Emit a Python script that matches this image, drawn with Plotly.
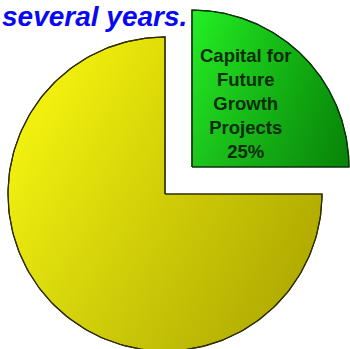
import numpy as np
import plotly.graph_objects as go

# Slice data (clockwise from 12 o'clock)
labels = ["Capital for<br>Future<br>Growth<br>Projects", ""]
values = [25, 75]
pulls = [0.243, 0.0]
show_text = [True, False]

# Styling per slice: horizontal base gradient + vertical shade overlay
base_scales = [
    [[0, "#24f024"], [1, "#0a9c0a"]],
    [[0, "#ffff10"], [1, "#c2bc00"]],
]
shade_scales = [
    [[0, "rgba(0,30,0,0.20)"], [1, "rgba(0,30,0,0)"]],
    [[0, "rgba(40,35,0,0.17)"], [1, "rgba(40,35,0,0)"]],
]
outline_colors = ["#0b330b", "#2e2c00"]

title_text = "several years."

fig = go.Figure()
total = float(sum(values))
start = 90.0
for i, v in enumerate(values):
    sweep = 360.0 * v / total
    a0, a1 = start, start - sweep
    mid = np.deg2rad((a0 + a1) / 2)
    cx, cy = pulls[i] * np.cos(mid), pulls[i] * np.sin(mid)
    th = np.deg2rad(np.linspace(a0, a1, 181))
    xs = np.concatenate([[cx], cx + np.cos(th), [cx]])
    ys = np.concatenate([[cy], cy + np.sin(th), [cy]])
    fig.add_trace(go.Scatter(
        x=xs, y=ys, mode="lines", fill="toself",
        fillgradient=dict(type="horizontal", colorscale=base_scales[i]),
        line=dict(color=outline_colors[i], width=1.2),
        hoverinfo="skip", showlegend=False,
    ))
    fig.add_trace(go.Scatter(
        x=xs, y=ys, mode="lines", fill="toself",
        fillgradient=dict(type="vertical", colorscale=shade_scales[i]),
        line=dict(color=outline_colors[i], width=1.2),
        hoverinfo="skip", showlegend=False,
    ))
    if show_text[i]:
        theta = np.deg2rad(sweep)
        dist = 4 * np.sin(theta / 2) / (3 * theta)
        tx, ty = cx + dist * np.cos(mid), cy + dist * np.sin(mid)
        pct = f"{100 * v / total:.0f}%"
        fig.add_annotation(
            x=tx, y=ty, xref="x", yref="y",
            text=f"<b>{labels[i]}<br>{pct}</b>",
            showarrow=False, xshift=-13, yshift=-3,
            font=dict(family="Liberation Sans, Arial, sans-serif", size=18.5, color="#0c2c0c"),
            align="center",
        )
    start = a1

fig.add_annotation(
    x=0, y=1, xref="paper", yref="paper", xanchor="left", yanchor="top",
    text=f"<b><i>{title_text}</i></b>", showarrow=False, xshift=0, yshift=1,
    font=dict(family="Liberation Sans, Arial, sans-serif", size=28, color="#0808f4"),
)

fig.update_xaxes(range=[-165 / 157, 185 / 157], visible=False, fixedrange=True)
fig.update_yaxes(range=[-155 / 157, 194 / 157], visible=False, fixedrange=True)
fig.update_layout(
    width=350, height=349,
    margin=dict(l=0, r=0, t=0, b=0),
    paper_bgcolor="white", plot_bgcolor="white",
    showlegend=False,
)

fig.write_html("out.html")
